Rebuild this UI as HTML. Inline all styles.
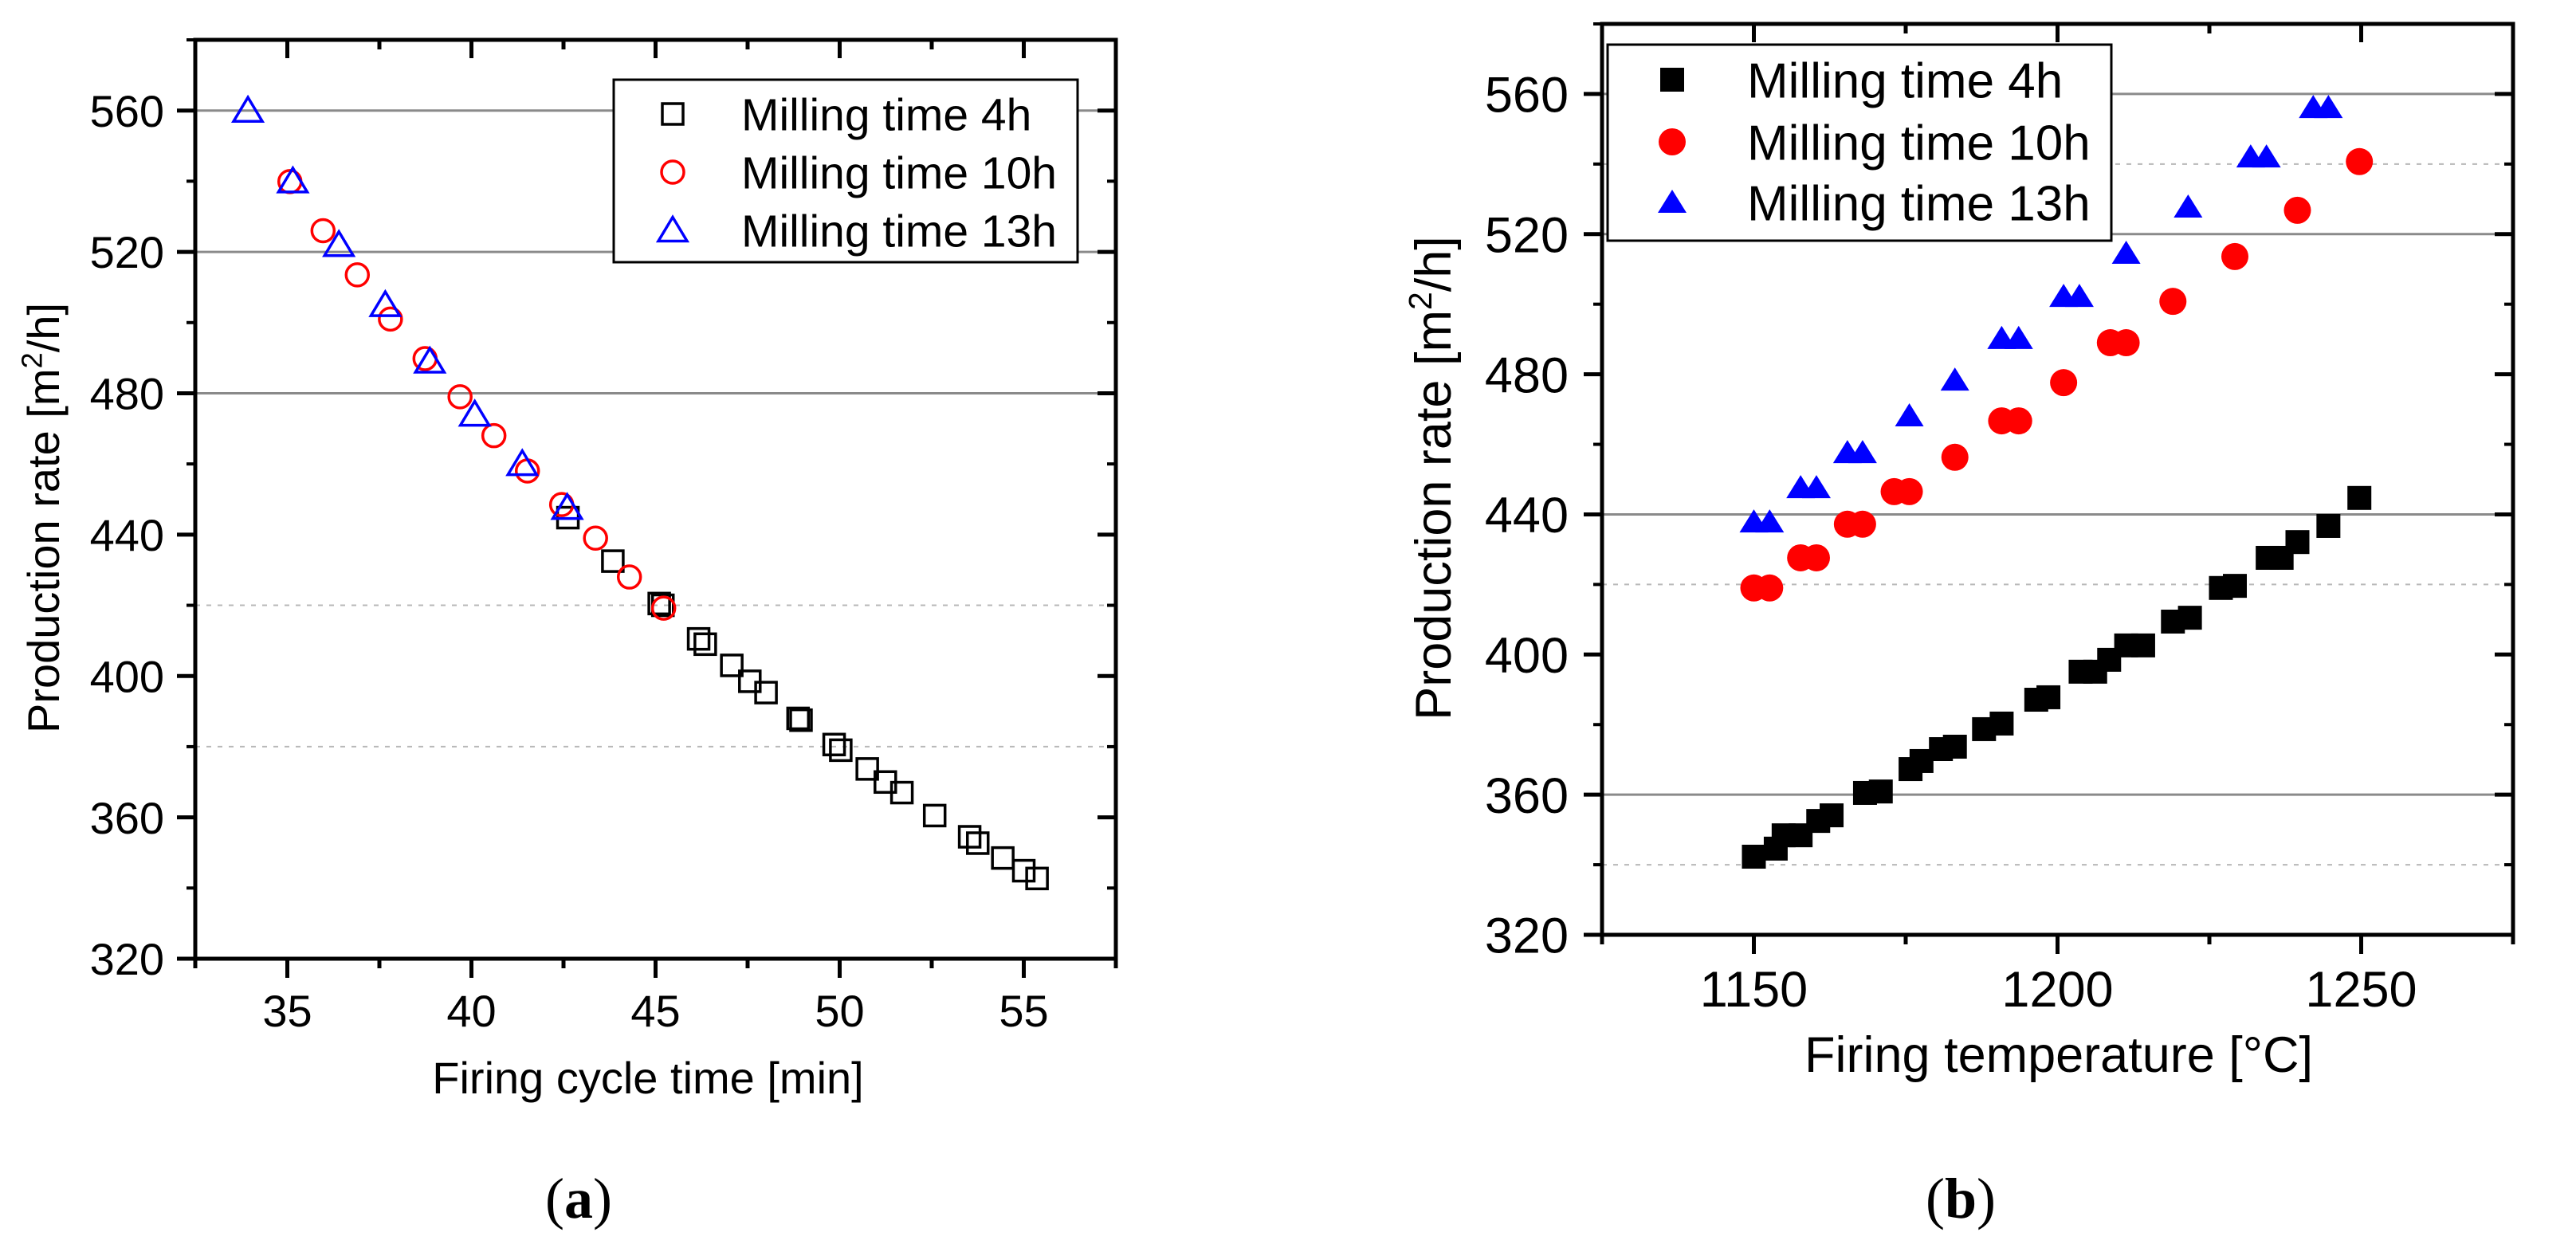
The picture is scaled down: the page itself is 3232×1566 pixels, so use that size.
<!DOCTYPE html>
<html><head><meta charset="utf-8"><style>
html,body{margin:0;padding:0;background:#fff;}
svg{display:block;}
text{font-family:"Liberation Sans",Arial,sans-serif;fill:#000;}
</style></head><body>
<svg id="fig" width="3232" height="1566" viewBox="0 0 3232 1566" xmlns="http://www.w3.org/2000/svg">
<rect x="0" y="0" width="3232" height="1566" fill="#fff"/>
<g id="pa"></g>
<g id="pb"></g>
<text x="726" y="1528" font-size="72" text-anchor="middle" style="font-family:'Liberation Serif',serif">(<tspan font-weight="bold">a</tspan>)</text>
<text x="2460" y="1528" font-size="72" text-anchor="middle" style="font-family:'Liberation Serif',serif">(<tspan font-weight="bold">b</tspan>)</text>
</svg>
<script>
// Panel (a) data: firing cycle time [min] vs production rate
const a4x = [42.62,43.84,45.10,45.2,46.17,46.35,47.07,47.56,48.0,48.87,48.95,49.85,50.03,50.75,51.24,51.69,52.58,53.53,53.75,54.43,55.0,55.36];
const a4y = [444.8,432.5,420.5,420,410.5,409,403,398.5,395.3,388,387.5,380.6,379,373.7,370,367,360.5,354.5,352.7,348.5,344.9,342.7];
const a10x = [35.07,35.97,36.9,37.8,38.74,39.69,40.61,41.52,42.45,43.37,44.29,45.22];
const a10y = [539.9,526,513.5,501,489.8,479,468,458,448.5,439,428,419.2];
const a13x = [33.93,35.15,36.4,37.66,38.87,40.09,41.38,42.6];
const a13y = [560,540,522,505,489,474,460,447.6];
const aXTicks = [35,40,45,50,55];
const aXMinor = [32.5,37.5,42.5,47.5,52.5,57.5];
const aYTicks = [320,360,400,440,480,520,560];
const aYMinor = [340,380,420,460,500,540,580];
const aGridSolid = [480,520,560];
const aGridDot = [380,420];
// Panel (b) data: firing temperature [°C] vs production rate
const b4x = [1150,1153.6,1154.9,1157.7,1160.6,1162.8,1168.3,1170.9,1175.8,1177.6,1180.8,1183.1,1187.9,1190.8,1196.5,1198.5,1203.8,1206.2,1208.5,1211.3,1214.1,1219,1221.8,1226.9,1229.2,1234.6,1236.9,1239.5,1244.6,1249.7];
const b4y = [342.3,344.6,348.4,348.4,352.5,354.1,360.5,360.9,367.3,369.6,373,373.7,378.7,380.3,387.1,387.8,395.1,395.1,398.5,402.6,402.6,409.4,410.5,419,419.6,427.6,427.6,432.1,436.7,444.7];
const b10x = [1150,1152.6,1157.7,1160.3,1165.4,1167.9,1173.1,1175.6,1183.1,1190.8,1193.6,1201,1208.7,1211.3,1219,1229.2,1239.5,1249.7];
const b10y = [419,419,427.6,427.6,437.2,437.2,446.5,446.5,456.3,466.7,466.7,477.6,489,489,500.8,513.6,526.8,540.7];
const b13x = [1150,1152.6,1157.7,1160.3,1165.4,1167.9,1175.6,1183.1,1190.8,1193.6,1201,1203.6,1211.3,1221.5,1231.8,1234.4,1242.1,1244.6];
const b13y = [437.8,437.8,447.6,447.6,457.6,457.6,468.1,478.3,490.2,490.2,502.2,502.2,514.5,527.7,542,542,556.1,556.1];
const bXTicks = [1150,1200,1250];
const bXMinor = [1125,1175,1225,1275];
const bYTicks = [320,360,400,440,480,520,560];
const bYMinor = [340,380,420,460,500,540,580];
const bGridSolid = [360,440,520,560];
const bGridDot = [340,420,540];

const NS = "http://www.w3.org/2000/svg";
function mk(parent, tag, attrs, txt){
  const e = document.createElementNS(NS, tag);
  for (const k in attrs) e.setAttribute(k, attrs[k]);
  if (txt !== undefined) e.textContent = txt;
  parent.appendChild(e);
  return e;
}

function drawPanel(g, cfg){
  const L=cfg.L,R=cfg.R,T=cfg.T,B=cfg.B;
  const sx = v => L + (v - cfg.x0) / (cfg.x1 - cfg.x0) * (R - L);
  const sy = v => B - (v - cfg.y0) / (cfg.y1 - cfg.y0) * (B - T);
  cfg.gridSolid.forEach(v => {
    const l = mk(g,'line',{x1:L,x2:R,y1:sy(v),y2:sy(v),stroke:'#8a8a8a','stroke-width':3});
    
    
  });
  cfg.gridDot.forEach(v => {
    const l = mk(g,'line',{x1:L,x2:R,y1:sy(v),y2:sy(v),stroke:'#b8b8b8','stroke-width':2,'stroke-dasharray':'6 8'});
    
    
  });
  const tk = (x1,y1,x2,y2,w,name) => {
    const l = mk(g,'line',{x1:x1,y1:y1,x2:x2,y2:y2,stroke:'#000','stroke-width':w});
    
    
  };
  cfg.yTicks.forEach(v => {
    const y = sy(v);
    tk(L-23,y,L,y,5,'y-tick');
    tk(R-23,y,R,y,5,'y-tick-right');
    const t = mk(g,'text',{x:cfg.yLabX,y:y+cfg.labFs*0.36,'font-size':cfg.labFs,'text-anchor':'end'}, String(v));
    
    
  });
  cfg.yMinor.forEach(v => {
    const y = sy(v);
    tk(L-11,y,L,y,4,'y-minor-tick');
    tk(R-11,y,R,y,4,'y-minor-tick-right');
  });
  cfg.xTicks.forEach(v => {
    const x = sx(v);
    tk(x,B,x,B+24,5,'x-tick');
    tk(x,T,x,T+23,5,'x-tick-top');
    const t = mk(g,'text',{x:x,y:cfg.xLabY,'font-size':cfg.labFs,'text-anchor':'middle'}, String(v));
    
    
  });
  cfg.xMinor.forEach(v => {
    const x = sx(v);
    tk(x,B,x,B+12,5,'x-minor-tick');
    tk(x,T,x,T+12,5,'x-minor-tick-top');
  });
  const fr = mk(g,'rect',{x:L,y:T,width:R-L,height:B-T,fill:'none',stroke:'#000','stroke-width':5});
  
  
  const lg = mk(g,'g',{});
  
  
  const lb = mk(lg,'rect',{x:cfg.leg.x,y:cfg.leg.y,width:cfg.leg.w,height:cfg.leg.h,fill:'#fff',stroke:'#000','stroke-width':3});
  
  
  const series = cfg.series;
  series.forEach((s,si) => {
    const sg = mk(g,'g',{});
    
    
    for (let i=0;i<s.xs.length;i++){
      const m = marker(sg, s.shape, sx(s.xs[i]), sy(s.ys[i]), s.color, cfg.filled, cfg.msz);
      
      
    }
  });
  lg.parentNode.appendChild(lg);
  series.forEach((s,si) => {
    const ey = cfg.leg.entryY[si];
    const m = marker(lg, s.shape, cfg.leg.mx, ey, s.color, cfg.filled, cfg.msz);
    
    
    const t = mk(lg,'text',{x:cfg.leg.tx,y:ey+cfg.legFs*0.36,'font-size':cfg.legFs}, s.label);
    
    
  });
  const xt = mk(g,'text',{x:cfg.xTitle.x,y:cfg.xTitle.y,'font-size':cfg.titleFs,'text-anchor':'middle'}, cfg.xTitle.text);
  
  
  const yt = mk(g,'text',{x:0,y:0,'font-size':cfg.titleFs,'text-anchor':'middle',transform:'translate('+cfg.yTitle.x+','+cfg.yTitle.y+') rotate(-90)'});
  
  
  mk(yt,'tspan',{},'Production rate [m');
  mk(yt,'tspan',{'font-size':cfg.titleFs*0.65,dy:-cfg.titleFs*0.38},'2');
  mk(yt,'tspan',{dy:cfg.titleFs*0.38},'/h]');
}

function marker(parent, shape, x, y, color, filled, sz){
  const fill = filled ? color : 'none';
  const sw = filled ? 0 : 3.5;
  if (shape === 'square'){
    const s = sz.sq;
    return mk(parent,'rect',{x:x-s/2,y:y-s/2,width:s,height:s,fill:fill,stroke:color,'stroke-width':sw});
  } else if (shape === 'circle'){
    return mk(parent,'circle',{cx:x,cy:y,r:sz.ci/2,fill:fill,stroke:color,'stroke-width':sw});
  } else {
    const w = sz.trw, h = sz.trh;
    const pts = [x+','+(y-h*0.55), (x+w/2)+','+(y+h*0.45), (x-w/2)+','+(y+h*0.45)].join(' ');
    return mk(parent,'polygon',{points:pts,fill:fill,stroke:color,'stroke-width':sw});
  }
}

drawPanel(document.getElementById('pa'), {
  L:245,R:1400,T:50,B:1203,x0:32.5,x1:57.5,y0:320,y1:580,
  xTicks:aXTicks,xMinor:aXMinor,yTicks:aYTicks,yMinor:aYMinor,
  gridSolid:aGridSolid,gridDot:aGridDot,
  labFs:56,yLabX:206,xLabY:1288,titleFs:56,legFs:57,filled:false,
  msz:{sq:26,ci:28,trw:36,trh:30},
  leg:{x:770,y:100,w:582,h:229,mx:844,tx:930,entryY:[143,216,289]},
  xTitle:{x:813,y:1372,text:'Firing cycle time [min]'},
  yTitle:{x:74,y:650},
  series:[
    {name:'4h',label:'Milling time 4h',xs:a4x,ys:a4y,shape:'square',color:'#000'},
    {name:'10h',label:'Milling time 10h',xs:a10x,ys:a10y,shape:'circle',color:'#ff0000'},
    {name:'13h',label:'Milling time 13h',xs:a13x,ys:a13y,shape:'triangle',color:'#0000ff'}
  ]
});
drawPanel(document.getElementById('pb'), {
  L:2010,R:3153,T:30,B:1173,x0:1125,x1:1275,y0:320,y1:580,
  xTicks:bXTicks,xMinor:bXMinor,yTicks:bYTicks,yMinor:bYMinor,
  gridSolid:bGridSolid,gridDot:bGridDot,
  labFs:63,yLabX:1968,xLabY:1263,titleFs:63,legFs:62,filled:true,
  msz:{sq:30,ci:34,trw:36,trh:29},
  leg:{x:2017,y:56,w:632,h:246,mx:2098,tx:2192,entryY:[100,178,254]},
  xTitle:{x:2583,y:1345,text:'Firing temperature [°C]'},
  yTitle:{x:1820,y:600},
  series:[
    {name:'4h',label:'Milling time 4h',xs:b4x,ys:b4y,shape:'square',color:'#000'},
    {name:'10h',label:'Milling time 10h',xs:b10x,ys:b10y,shape:'circle',color:'#ff0000'},
    {name:'13h',label:'Milling time 13h',xs:b13x,ys:b13y,shape:'triangle',color:'#0000ff'}
  ]
});
</script>
</body></html>
